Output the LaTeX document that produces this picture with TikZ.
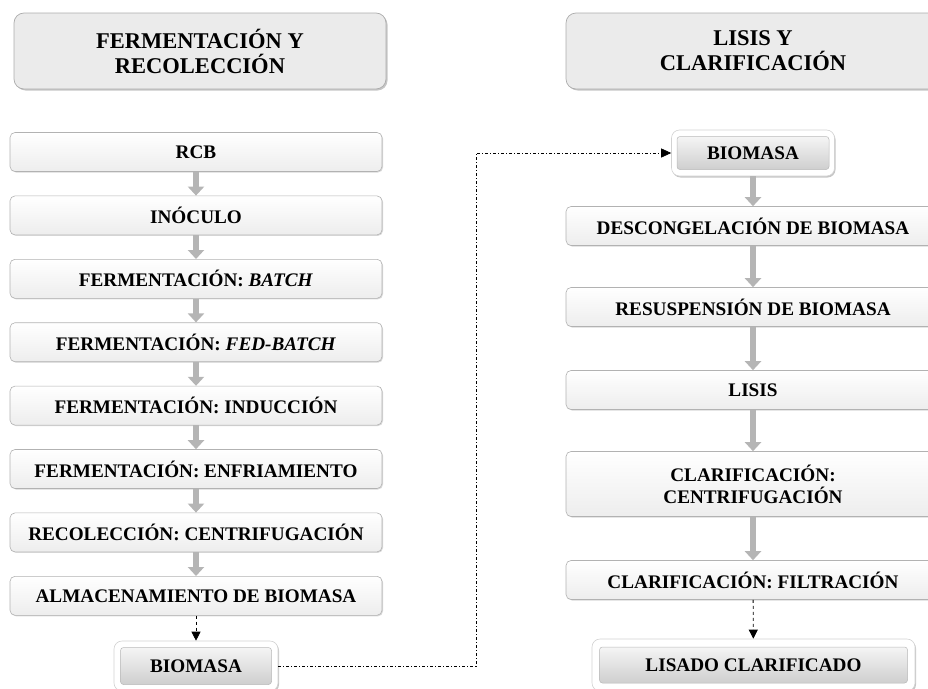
\documentclass[tikz,border=0pt]{standalone}
\usepackage{fontspec}
\setmainfont{Liberation Serif}
\usepackage{xcolor}
\usepackage{tikz}
\usetikzlibrary{arrows.meta,positioning,calc,shapes,shadows}

\begin{document}
\begin{tikzpicture}[x=1pt, y=-1pt,
    every node/.style={font=\bfseries\fontsize{19.2}{22}\selectfont, align=center, inner sep=0pt},
    hdrbox/.style={draw=gray!65, line width=0.7pt, fill=gray!16, rounded corners=10pt,
        minimum height=76pt, font=\bfseries\fontsize{22.5}{25}\selectfont,
        drop shadow={shadow xshift=1.5pt, shadow yshift=-1.5pt, opacity=0.45}},
    stepbox/.style={draw=gray!60, line width=0.6pt, top color=white, bottom color=gray!14,
        rounded corners=5pt, minimum height=39pt,
        drop shadow={shadow xshift=1pt, shadow yshift=-1pt, opacity=0.3}},
    frame/.style={draw=gray!35, line width=0.6pt, fill=white, rounded corners=8pt,
        drop shadow={shadow xshift=1pt, shadow yshift=-1.5pt, opacity=0.45}},
    endbox/.style={draw=gray!55, line width=0.5pt, top color=gray!8, bottom color=gray!38,
        rounded corners=3pt},
    flow/.style={draw=gray!58, line width=6pt, -{Triangle[width=16pt,length=9pt]}},
    dashflow/.style={dashed, line width=0.8pt, -{Triangle[width=9pt,length=9pt]}},
    linkflow/.style={dash pattern=on 3pt off 2pt on 1pt off 2pt, line width=0.7pt,
        -{Triangle[width=9pt,length=10pt]}}]

    \useasboundingbox (0,0) rectangle (928,688);

    % Headers
    \node[hdrbox, minimum width=372pt] (hdrA) at (200,51) {FERMENTACIÓN Y\\RECOLECCIÓN};
    \node[hdrbox, minimum width=374pt] (hdrB) at (753,51) {LISIS Y\\CLARIFICACIÓN};

    % Fermentation column
    \node[stepbox, minimum width=372pt] (rcb) at (196,152) {RCB};
    \node[stepbox, minimum width=372pt] (inoc) at (196,215.4) {INÓCULO};
    \node[stepbox, minimum width=372pt] (batch) at (196,278.8) {FERMENTACIÓN: \textit{BATCH}};
    \node[stepbox, minimum width=372pt] (fedb) at (196,342.2) {FERMENTACIÓN: \textit{FED-BATCH}};
    \node[stepbox, minimum width=372pt] (induc) at (196,405.6) {FERMENTACIÓN: INDUCCIÓN};
    \node[stepbox, minimum width=372pt] (enfr) at (196,469) {FERMENTACIÓN: ENFRIAMIENTO};
    \node[stepbox, minimum width=372pt] (recol) at (196,532.4) {RECOLECCIÓN: CENTRIFUGACIÓN};
    \node[stepbox, minimum width=372pt] (almac) at (196,595.8) {ALMACENAMIENTO DE BIOMASA};
    \node[frame, minimum width=164pt, minimum height=50pt] (bioA) at (196,666) {};
    \node[endbox, minimum width=151pt, minimum height=37pt] (bioAin) at (196,666) {BIOMASA};

    % Lysis column
    \node[frame, minimum width=163pt, minimum height=46pt] (bioB) at (753,153) {};
    \node[endbox, minimum width=152pt, minimum height=33pt] (bioBin) at (753,153) {BIOMASA};
    \node[stepbox, minimum width=374pt] (desc) at (753,226) {DESCONGELACIÓN DE BIOMASA};
    \node[stepbox, minimum width=374pt] (resus) at (753,307) {RESUSPENSIÓN DE BIOMASA};
    \node[stepbox, minimum width=374pt] (lisis) at (753,390) {LISIS};
    \node[stepbox, minimum width=374pt, minimum height=65pt] (centr) at (753,484) {CLARIFICACIÓN:\\CENTRIFUGACIÓN};
    \node[stepbox, minimum width=374pt] (filtr) at (753,580) {CLARIFICACIÓN: FILTRACIÓN};
    \node[frame, minimum width=323pt, minimum height=52pt] (lisado) at (753.5,665) {};
    \node[endbox, minimum width=308pt, minimum height=36pt] (lisadoin) at (753.5,665) {LISADO CLARIFICADO};

    % Arrows
    \draw[flow] (rcb) -- (inoc);
    \draw[flow] (inoc) -- (batch);
    \draw[flow] (batch) -- (fedb);
    \draw[flow] (fedb) -- (induc);
    \draw[flow] (induc) -- (enfr);
    \draw[flow] (enfr) -- (recol);
    \draw[flow] (recol) -- (almac);
    \draw[dashflow] (almac) -- (bioA);

    \draw[flow] (bioB) -- (desc);
    \draw[flow] (desc) -- (resus);
    \draw[flow] (resus) -- (lisis);
    \draw[flow] (lisis) -- (centr);
    \draw[flow] (centr) -- (filtr);
    \draw[dashflow] (filtr) -- (lisado);

    % Link between columns
    \coordinate (turnA) at (476,666);
    \coordinate (turnB) at (476,153);
    \draw[linkflow] (bioA.east) -- (turnA) -- (turnB) -- (bioB.west);
\end{tikzpicture}
\end{document}
